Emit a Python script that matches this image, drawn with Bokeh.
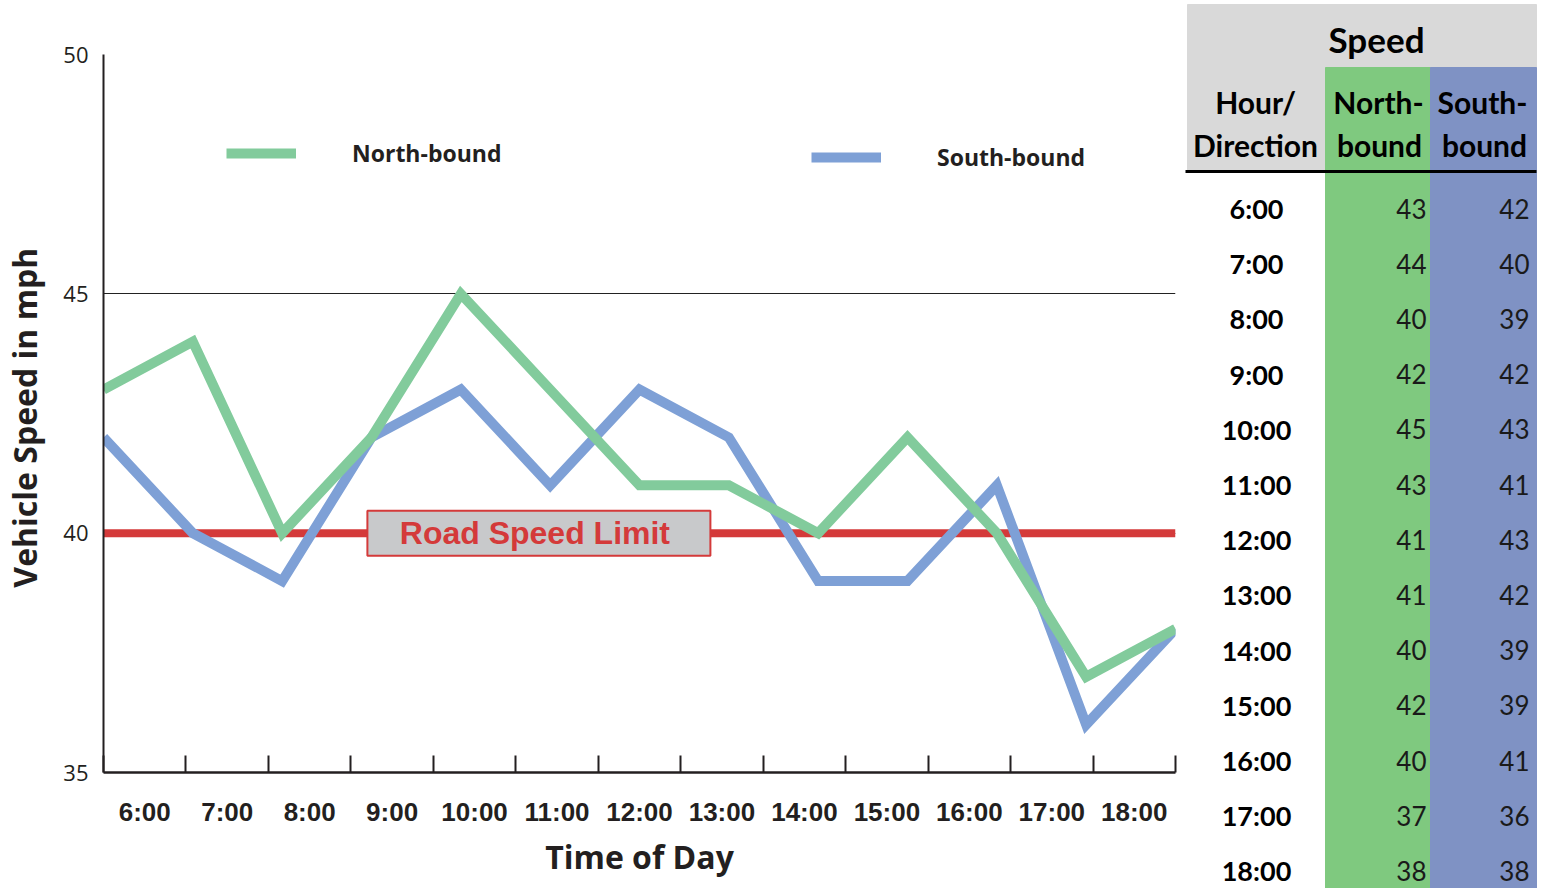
from bokeh.plotting import figure
from bokeh.models import Range1d, FixedTicker, Legend, LegendItem, Span
from bokeh.layouts import row, column
from bokeh.embed import file_html
from bokeh.resources import INLINE
from bokeh.core.properties import value

# ---------------- data ----------------
hours = ["6:00", "7:00", "8:00", "9:00", "10:00", "11:00", "12:00",
         "13:00", "14:00", "15:00", "16:00", "17:00", "18:00"]
north = [43, 44, 40, 42, 45, 43, 41, 41, 40, 42, 40, 37, 38]
south = [42, 40, 39, 42, 43, 41, 43, 42, 39, 39, 41, 36, 38]
speed_limit = 40
limit_label = "Road Speed Limit"
y_ticks = [35, 40, 45, 50]
north_label = "North-bound"
south_label = "South-bound"

# ---------------- styles ----------------
GREEN_LINE = "#82CB9C"
BLUE_LINE = "#7EA0D6"
RED = "#D43A3A"
BOX_FILL = "#C8C9CB"
DARK = "#231F20"
TBL_GREY = "#D9D9D9"
TBL_GREEN = "#7FC97F"
TBL_BLUE = "#7F92C4"

H = 888
n = len(hours)
# line points span the whole frame; category labels sit in n equal slots
xs = [i * n / (n - 1) for i in range(n)]

p = figure(width=1185, height=H, x_range=Range1d(0, n), y_range=Range1d(35, 50),
           output_backend="svg", toolbar_location=None,
           min_border_left=103, min_border_right=10, min_border_top=54, min_border_bottom=H - 772)
p.outline_line_color = None
p.background_fill_color = "white"
p.border_fill_color = "white"

p.xgrid.grid_line_color = None
p.ygrid.ticker = FixedTicker(ticks=y_ticks)
p.ygrid.grid_line_color = "#222222"
p.ygrid.grid_line_width = 1

# x axis
xa = p.xaxis[0]
xa.ticker = FixedTicker(ticks=[i + 0.5 for i in range(n)], minor_ticks=list(range(n + 1)))
xa.major_label_overrides = {i + 0.5: h for i, h in enumerate(hours)}
xa.major_tick_in = 0
xa.major_tick_out = 0
xa.minor_tick_in = 17
xa.minor_tick_out = 0
xa.minor_tick_line_width = 2
xa.minor_tick_line_color = DARK
xa.axis_line_width = 2.5
xa.axis_line_color = DARK
xa.major_label_text_font = "Liberation Sans"
xa.major_label_text_font_style = "bold"
xa.major_label_text_font_size = "26px"
xa.major_label_text_color = DARK
xa.major_label_standoff = 24
xa.axis_label = "Time of Day"
xa.axis_label_text_font = "Open Sans"
xa.axis_label_text_font_style = "bold"
xa.axis_label_text_font_size = "32px"
xa.axis_label_text_color = DARK
xa.axis_label_standoff = 5

# y axis
ya = p.yaxis[0]
ya.ticker = FixedTicker(ticks=y_ticks)
ya.major_tick_in = 0
ya.major_tick_out = 0
ya.minor_tick_in = 0
ya.minor_tick_out = 0
ya.axis_line_width = 2
ya.axis_line_color = DARK
ya.major_label_text_font = "Open Sans"
ya.major_label_text_font_size = "22px"
ya.major_label_text_color = DARK
ya.major_label_standoff = 15
ya.axis_label = "Vehicle Speed  in mph"
ya.axis_label_text_font = "Open Sans"
ya.axis_label_text_font_style = "bold"
ya.axis_label_text_font_size = "32px"
ya.axis_label_text_color = DARK
ya.axis_label_standoff = 14

# speed limit line
p.add_layout(Span(location=speed_limit, dimension="width", line_color=RED,
                  line_width=8, level="underlay"))

rb = p.line(xs, south, line_color=BLUE_LINE, line_width=10, line_join="miter")
rg = p.line(xs, north, line_color=GREEN_LINE, line_width=10, line_join="miter")

label_x = 5.28
p.rect(x=[label_x], y=[speed_limit], width=343, height=45, width_units="screen",
       height_units="screen", fill_color=BOX_FILL, line_color=RED, line_width=2)
p.text(x=[label_x], y=[speed_limit], text=[limit_label], text_align="center",
       text_baseline="middle", text_font=value("Liberation Sans"), text_font_style="bold",
       text_font_size="32px", text_color=RED, x_offset=-4)

def make_legend(label, r, loc):
    return Legend(items=[LegendItem(label=label, renderers=[r])], location=loc,
                  border_line_color=None, background_fill_alpha=0, padding=0, margin=0,
                  glyph_width=70, glyph_height=14, label_standoff=56,
                  label_text_font="Open Sans", label_text_font_style="bold",
                  label_text_font_size="23px", label_text_color=DARK)

p.add_layout(make_legend(north_label, rg, (123, 603)))
p.add_layout(make_legend(south_label, rb, (708, 599)))

# ---------------- table ----------------
TW = 359
t = figure(width=TW, height=H, x_range=Range1d(1185, 1185 + TW), y_range=Range1d(H, 0),
           output_backend="svg", toolbar_location=None, min_border=0,
           x_axis_type=None, y_axis_type=None)
t.outline_line_color = None
t.background_fill_color = "white"
t.border_fill_color = "white"

col_left, col_n, col_s, col_right = 1187, 1325, 1430, 1536
t.quad(left=[col_left], right=[col_right], top=[4], bottom=[171], color=TBL_GREY)
t.quad(left=[col_n], right=[col_s], top=[67], bottom=[H + 10], color=TBL_GREEN)
t.quad(left=[col_s], right=[col_right], top=[67], bottom=[H + 10], color=TBL_BLUE)
t.segment(x0=[1184], y0=[171], x1=[col_right], y1=[171], line_color="black", line_width=3)

tf = value("Lato")
t.text(x=[1376], y=[38], text=["Speed"], text_align="center", text_baseline="middle",
       text_font=tf, text_font_style="bold", text_font_size="35px", text_color="black")
t.text(x=[1255, 1255, 1378, 1379, 1482, 1484], y=[101, 144, 101, 144, 101, 144],
       text=["Hour/", "Direction", "North-", "bound", "South-", "bound"],
       text_align="center", text_baseline="middle", text_font=tf, text_font_style="bold",
       text_font_size="30px", text_color="black")

row_y = [208 + i * 55.2 for i in range(n)]
t.text(x=[1256] * n, y=row_y, text=hours, text_align="center", text_baseline="middle",
       text_font=tf, text_font_style="bold", text_font_size="27px", text_color="black")
t.text(x=[1426] * n, y=row_y, text=[str(v) for v in north], text_align="right",
       text_baseline="middle", text_font=tf, text_font_size="26px", text_color="#1a1a1a")
t.text(x=[1529] * n, y=row_y, text=[str(v) for v in south], text_align="right",
       text_baseline="middle", text_font=tf, text_font_size="26px", text_color="#1a1a1a")

layout = row(p, column(t))
open("out.html", "w").write(file_html(layout, INLINE))
